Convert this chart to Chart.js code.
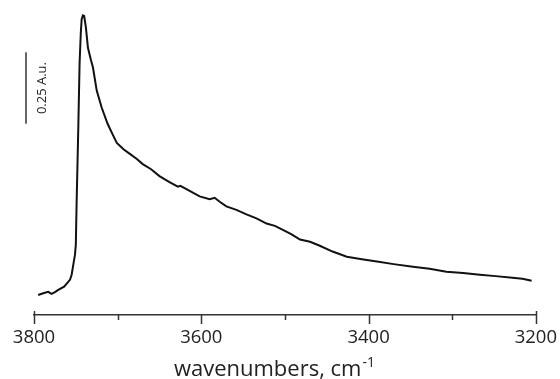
<!DOCTYPE html>
<html>
<head>
<meta charset="utf-8">
<script src="https://cdn.jsdelivr.net/npm/chart.js@4.4.0/dist/chart.umd.min.js"></script>
<style>
  html, body { margin: 0; padding: 0; background: #fff; }
  #wrap { width: 560px; height: 379px; position: relative; }
</style>
</head>
<body>
<div id="wrap"><canvas id="irChart"></canvas></div>
<script>
// spectrum (wavenumber in cm-1, absorbance in A.u.)
var wavenumbers = [3795, 3789, 3783, 3779, 3775, 3771, 3764, 3757, 3755, 3753,
    3751, 3750, 3749, 3747, 3745.5, 3744, 3743, 3741.5, 3740, 3738,
    3735.5, 3732, 3729.5, 3725, 3719, 3712, 3706, 3701, 3693, 3685,
    3677, 3670, 3660, 3650, 3638, 3628, 3625, 3615, 3602, 3590,
    3584, 3578, 3570, 3558, 3546, 3534, 3522, 3512, 3503, 3492,
    3482, 3470, 3459, 3443, 3426, 3408, 3390, 3370, 3347, 3327,
    3307, 3287, 3267, 3248, 3228, 3216, 3205];
var absorbance = [0.070, 0.076, 0.081, 0.074, 0.080, 0.088, 0.099, 0.123, 0.141, 0.176,
    0.211, 0.246, 0.400, 0.660, 0.880, 0.990, 1.035, 1.048, 1.046, 1.007,
    0.935, 0.893, 0.866, 0.785, 0.725, 0.669, 0.632, 0.602, 0.580, 0.563,
    0.546, 0.528, 0.510, 0.486, 0.465, 0.449, 0.452, 0.436, 0.415, 0.405,
    0.410, 0.396, 0.380, 0.368, 0.352, 0.338, 0.320, 0.312, 0.299, 0.282,
    0.264, 0.256, 0.243, 0.222, 0.204, 0.195, 0.187, 0.178, 0.169, 0.162,
    0.151, 0.147, 0.141, 0.136, 0.130, 0.127, 0.120];
var majorTicks = [3800, 3600, 3400, 3200];
var minorTicks = [3700, 3500, 3300];
var scaleBar = [0.669, 0.919]; // 0.25 A.u.
var scaleBarLabel = "0.25 A.u.";
var axisTitle = "wavenumbers, cm";
var axisTitleSup = "-1";

var FONT = "'Open Sans', 'DejaVu Sans', sans-serif";

// tick marks, scale bar and axis title
var extras = {
    id: "extras",
    afterDraw: function (chart) {
        var ctx = chart.ctx;
        var x = chart.scales.x;
        var y = chart.scales.y;
        var area = chart.chartArea;
        var base = area.bottom;
        ctx.save();
        ctx.strokeStyle = "#333";
        ctx.lineWidth = 1.5;
        majorTicks.forEach(function (v, i) {
            var px = Math.round(x.getPixelForValue(v)) + 0.5;
            var up = (i == 0 || i == majorTicks.length - 1) ? 4 : 0;
            ctx.beginPath();
            ctx.moveTo(px, base - up);
            ctx.lineTo(px, base + 9);
            ctx.stroke();
        });
        minorTicks.forEach(function (v) {
            var px = Math.round(x.getPixelForValue(v)) + 0.5;
            ctx.beginPath();
            ctx.moveTo(px, base);
            ctx.lineTo(px, base + 5);
            ctx.stroke();
        });

        // scale bar
        var barX = area.left - 8;
        var y0 = y.getPixelForValue(scaleBar[0]);
        var y1 = y.getPixelForValue(scaleBar[1]);
        ctx.beginPath();
        ctx.moveTo(barX, y0);
        ctx.lineTo(barX, y1);
        ctx.stroke();
        ctx.fillStyle = "#222";
        ctx.font = "13px " + FONT;
        ctx.textAlign = "center";
        ctx.textBaseline = "middle";
        ctx.translate(area.left + 8, (y0 + y1) / 2);
        ctx.rotate(-Math.PI / 2);
        ctx.fillText(scaleBarLabel, 0, 0);
        ctx.restore();

        // axis title with superscript
        ctx.save();
        ctx.fillStyle = "#222";
        ctx.textBaseline = "alphabetic";
        ctx.textAlign = "left";
        ctx.font = "22px " + FONT;
        var w1 = ctx.measureText(axisTitle).width;
        ctx.font = "14px " + FONT;
        var w2 = ctx.measureText(axisTitleSup).width;
        var cx = (area.left + area.right) / 2 - 11;
        var tx = cx - (w1 + w2) / 2;
        ctx.font = "22px " + FONT;
        ctx.fillText(axisTitle, tx, 376);
        ctx.font = "14px " + FONT;
        ctx.fillText(axisTitleSup, tx + w1 + 1, 367);
        ctx.restore();
    },
};

var points = wavenumbers.map(function (w, i) {
    return { x: w, y: absorbance[i] };
});

new Chart(document.getElementById("irChart").getContext("2d"), {
    type: "line",
    data: {
        datasets: [
            {
                label: "IR spectrum",
                data: points,
                borderColor: "#111",
                borderWidth: 2,
                pointRadius: 0,
                tension: 0,
                fill: false,
            },
        ],
    },
    options: {
        responsive: true,
        maintainAspectRatio: false,
        animation: false,
        layout: { padding: { left: 34, right: 23, top: 6.3, bottom: 26.8 } },
        plugins: {
            legend: { display: false },
            tooltip: { enabled: false },
        },
        scales: {
            x: {
                type: "linear",
                min: 3200,
                max: 3800,
                reverse: true,
                grid: {
                    drawOnChartArea: false,
                    drawTicks: true,
                    tickLength: 9,
                    tickColor: "rgba(0,0,0,0)",
                },
                border: { display: true, color: "#333", width: 1.5 },
                ticks: {
                    stepSize: 200,
                    autoSkip: false,
                    maxRotation: 0,
                    padding: 3,
                    color: "#222",
                    font: { family: FONT, size: 18.5 },
                    callback: function (value) {
                        return String(value);
                    },
                },
            },
            y: {
                display: false,
                min: 0,
                max: 1.08,
            },
        },
    },
    plugins: [extras],
});
</script>
</body>
</html>
